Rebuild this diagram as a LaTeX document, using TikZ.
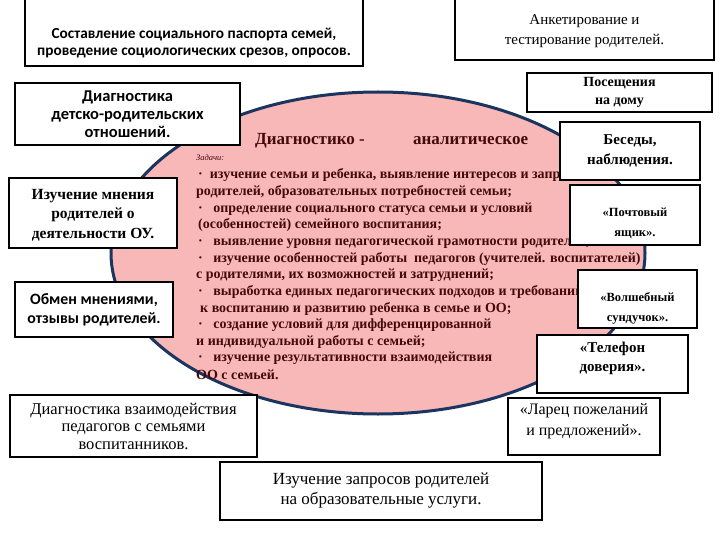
\documentclass[tikz,border=0pt]{standalone}
\usepackage{fontspec}
\setmainfont{Liberation Serif}
\newfontfamily\calib{Carlito}
\definecolor{pinkfill}{RGB}{248,184,184}
\definecolor{navyline}{RGB}{28,52,96}
\definecolor{darkred}{RGB}{68,10,10}
\begin{document}
\begin{tikzpicture}[x=1pt,y=-1pt,
  box/.style={draw=black, line width=2.4pt, fill=white, inner sep=0pt, align=center, text=black},
  btext/.style={inner sep=0pt, align=center, text=black},
  tline/.style={anchor=west, inner sep=0pt, text=darkred, font=\fontsize{14}{15}\selectfont\bfseries},
]
\useasboundingbox (0,0) rectangle (720,540);
\fill[white] (0,0) rectangle (720,540);
% central ellipse
\draw[navyline, line width=3pt, fill=pinkfill] (378,253) ellipse [x radius=267, y radius=161];
% title
\node[anchor=west, inner sep=0pt, text=darkred, font=\fontsize{17}{19}\selectfont\bfseries] (ti1) at (255,141) {Диагностико -};
\node[anchor=west, inner sep=0pt, text=darkred, font=\fontsize{17}{19}\selectfont\bfseries] (ti2) at (413,141) {аналитическое};
\node[anchor=west, inner sep=0pt, text=darkred, font=\fontsize{8.5}{9}\selectfont\itshape] (zad) at (196,158) {Задачи:};
% task lines
\node[tline] (l1) at (198,175) {·\ \ изучение семьи и ребенка, выявление интересов и запросов};
\node[tline] (l2) at (196,192) {родителей, образовательных потребностей семьи;};
\node[tline] (l3) at (198,209) {·\ \ \ определение социального статуса семьи и условий};
\node[tline] (l4) at (198,225) {(особенностей) семейного воспитания;};
\node[tline] (l5) at (198,242) {·\ \ \ выявление уровня педагогической грамотности родителей,};
\node[tline] (l6) at (198,259) {·\ \ \ изучение особенностей работы\ \ педагогов (учителей. воспитателей)};
\node[tline] (l7) at (196,275) {с родителями, их возможностей и затруднений;};
\node[tline] (l8) at (198,292) {·\ \ \ выработка единых педагогических подходов и требований};
\node[tline] (l9) at (200,309) {к воспитанию и развитию ребенка в семье и ОО;};
\node[tline] (l10) at (198,325) {·\ \ \ создание условий для дифференцированной};
\node[tline] (l11) at (196,342) {и индивидуальной работы с семьей;};
\node[tline] (l12) at (198,358) {·\ \ \ изучение результативности взаимодействия};
\node[tline] (l13) at (196,375) {ОО с семьей.};
% boxes
\node[box, minimum width=338, minimum height=72] (a) at (194,30) {};
\node[btext, font=\calib\bfseries\fontsize{15.3}{16.5}\selectfont] (at) at (194,43) {Составление социального паспорта семей,\\проведение социологических срезов, опросов.};
\node[box, minimum width=259, minimum height=66] (b) at (584.5,27) {};
\node[btext, font=\fontsize{15}{20}\selectfont] (bt) at (584.5,31) {Анкетирование и\\тестирование родителей.};
\node[box, minimum width=185, minimum height=39, font=\bfseries\fontsize{14}{18}\selectfont] (c) at (619.5,92.5) {Посещения\\на дому};
\node[box, minimum width=140, minimum height=58, font=\bfseries\fontsize{15}{20}\selectfont] (d) at (630,151) {Беседы,\\наблюдения.};
\node[box, minimum width=225, minimum height=62, font=\calib\bfseries\fontsize{16.5}{18}\selectfont] (e) at (127.5,114) {Диагностика\\детско-родительских\\отношений.};
\node[box, minimum width=168, minimum height=70] (f) at (93,213) {};
\node[btext, font=\bfseries\fontsize{15.5}{19.5}\selectfont] (ft) at (93,215) {Изучение мнения\\родителей о\\деятельности ОУ.};
\node[box, minimum width=158, minimum height=55, font=\calib\bfseries\fontsize{15.8}{19}\selectfont] (g) at (94,309.5) {Обмен мнениями,\\отзывы родителей.};
\node[box, minimum width=130, minimum height=60] (h) at (635,215) {};
\node[btext, font=\bfseries\fontsize{12.5}{20}\selectfont] (ht) at (635,223) {«Почтовый\\ящик».};
\node[box, minimum width=119, minimum height=58] (i) at (637.5,299) {};
\node[btext, font=\bfseries\fontsize{12.5}{20}\selectfont] (it) at (637.5,308) {«Волшебный\\сундучок».};
\node[box, minimum width=151, minimum height=58] (j) at (612.5,364) {};
\node[btext, font=\bfseries\fontsize{15}{19}\selectfont] (jt) at (612.5,358) {«Телефон\\доверия».};
\node[box, minimum width=152, minimum height=57] (k) at (584,426.5) {};
\node[btext, font=\fontsize{16}{21}\selectfont] (kt) at (584,421) {«Ларец пожеланий\\и предложений».};
\node[box, minimum width=247, minimum height=62, font=\fontsize{16.5}{17.5}\selectfont] (l) at (133.5,426) {Диагностика взаимодействия\\педагогов с семьями\\воспитанников.};
\node[box, minimum width=322, minimum height=58, font=\fontsize{17}{20}\selectfont] (m) at (381,491) {Изучение запросов родителей\\на образовательные услуги.};
\end{tikzpicture}
\end{document}
